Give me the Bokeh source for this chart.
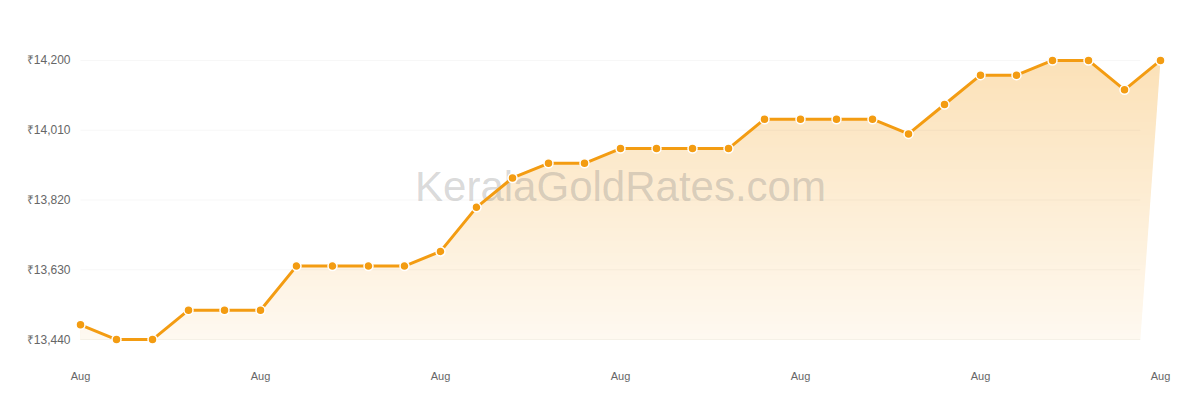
from bokeh.plotting import figure
from bokeh.models import FixedTicker
from bokeh.core.properties import value
from bokeh.embed import file_html
from bokeh.resources import INLINE

# ---- data ----
rates = [13480, 13440, 13440, 13520, 13520, 13520, 13640, 13640, 13640, 13640,
         13680, 13800, 13880, 13920, 13920, 13960, 13960, 13960, 13960, 14040,
         14040, 14040, 14040, 14000, 14080, 14160, 14160, 14200, 14200, 14120,
         14200]
x_tick_labels = ["Aug", "Aug", "Aug", "Aug", "Aug", "Aug", "Aug"]
y_ticks = [13440, 13630, 13820, 14010, 14200]
y_tick_labels = ["₹13,440", "₹13,630", "₹13,820", "₹14,010", "₹14,200"]
watermark = "KeralaGoldRates.com"

n = len(rates)
xs = list(range(n))
x_tick_pos = xs[::5]
y_lo, y_hi = y_ticks[0], y_ticks[-1]
span = y_hi - y_lo
pad = span * 20 / 280.0
x_end_base = (n - 1) - 0.56  # bottom-right corner of the filled area

FONT = "Liberation Sans"
LINE_COLOR = "#f39c12"

p = figure(width=1184, height=384,
           x_range=(-0.25, n - 1 + 0.5),
           y_range=(y_lo - pad, y_hi + pad),
           output_backend="svg", toolbar_location=None,
           min_border_left=71, min_border_right=6,
           min_border_top=40, min_border_bottom=24)
p.title.visible = False
p.outline_line_color = None
p.background_fill_color = "white"
p.border_fill_color = "white"
p.xgrid.visible = False
p.ygrid.visible = False

# ---- gradient fill under the line (stacked quads, tallest first) ----
N = 90
base = (243, 156, 18)
for k in range(N):
    t = k / N
    a = 0.30 - 0.24 * t
    r = int(round(255 - a * (255 - base[0])))
    g = int(round(255 - a * (255 - base[1])))
    b = int(round(255 - a * (255 - base[2])))
    top = y_hi - span * k / N
    p.quad(left=[0], right=[n - 1], bottom=[y_lo], top=[top],
           fill_color="#%02x%02x%02x" % (r, g, b), line_color=None)

# white mask above the line (extends past the fill on the left and top)
mask_x = [-0.2] + xs + [n - 1, -0.2]
mask_y = [rates[0]] + rates + [y_hi + 2 * pad, y_hi + 2 * pad]
p.patch(mask_x, mask_y, fill_color="white", line_color=None)
# white mask right of the slanted closing edge
p.patch([n - 1, x_end_base, n - 1 + 0.6, n - 1 + 0.6],
        [rates[-1], y_lo - 1, y_lo - 1, rates[-1] + pad],
        fill_color="white", line_color=None)

# grid lines
p.segment(x0=[0] * len(y_ticks), x1=[x_end_base] * len(y_ticks),
          y0=y_ticks, y1=y_ticks, line_color="black", line_alpha=0.035,
          line_width=1)

# watermark
p.text(x=[(n - 1) / 2], y=[y_lo + span * 153.7 / 280], text=[watermark],
       text_font=value(FONT), text_font_size="42px", text_align="center",
       text_baseline="alphabetic", text_color="#808080", text_alpha=0.3)

# line + markers
p.line(xs, rates, line_color=LINE_COLOR, line_width=3)
p.scatter(xs, rates, size=9, fill_color=LINE_COLOR, line_color="white",
          line_width=1.5)

# ---- axes ----
p.xaxis.ticker = FixedTicker(ticks=x_tick_pos)
p.xaxis.major_label_overrides = {t: l for t, l in zip(x_tick_pos, x_tick_labels)}
p.yaxis.ticker = FixedTicker(ticks=y_ticks)
p.yaxis.major_label_overrides = {t: l for t, l in zip(y_ticks, y_tick_labels)}
for ax in (p.xaxis, p.yaxis):
    ax.axis_line_color = None
    ax.major_tick_line_color = None
    ax.minor_tick_line_color = None
    ax.major_tick_out = 0
    ax.major_tick_in = 0
    ax.major_label_text_font = FONT
    ax.major_label_text_color = "#666666"
p.xaxis.major_label_text_font_size = "11px"
p.yaxis.major_label_text_font_size = "12px"
p.xaxis.major_label_standoff = 10
p.yaxis.major_label_standoff = 1

open("out.html", "w").write(file_html(p, INLINE))
